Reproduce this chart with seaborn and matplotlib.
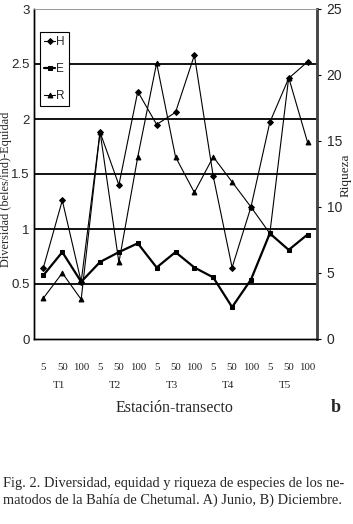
import matplotlib

matplotlib.use("Agg")
import matplotlib.pyplot as plt
import numpy as np
import pandas as pd
import seaborn as sns
from matplotlib.transforms import blended_transform_factory

sns.set_theme(style="white")
SERIF = ["Liberation Serif", "DejaVu Serif"]
NARROW = ["Liberation Sans Narrow", "Liberation Sans", "DejaVu Sans"]
plt.rcParams["font.family"] = SERIF

# --- data (b: Diciembre) ---
depths = ["5", "50", "100"] * 5
transects = ["T1", "T2", "T3", "T4", "T5"]
H = [0.65, 1.26, 0.52, 1.88, 1.40, 2.25, 1.95, 2.06, 2.58, 1.48, 0.65, 1.20, 1.97, 2.37, 2.52]
E = [0.58, 0.79, 0.52, 0.70, 0.79, 0.87, 0.65, 0.79, 0.65, 0.56, 0.29, 0.54, 0.96, 0.81, 0.95]
R = [3.1, 5.0, 3.0, 15.7, 5.8, 13.8, 20.9, 13.8, 11.1, 13.8, 11.9, 10.0, 8.0, 19.8, 14.9]
left_ticks = [0, 0.5, 1, 1.5, 2, 2.5, 3]
right_ticks = [0, 5, 10, 15, 20, 25]
caption = ("Fig. 2. Diversidad, equidad y riqueza de especies de los ne-\n"
           "matodos de la Bahía de Chetumal. A) Junio, B) Diciembre.")

df = pd.DataFrame({"pos": np.arange(len(depths)), "H": H, "E": E, "R": R})

W, Hpx = 353, 524
fig = plt.figure(figsize=(W / 100, Hpx / 100), dpi=100)
ax = fig.add_axes([34 / W, 1 - 339 / Hpx, (317 - 34) / W, (339 - 9) / Hpx])
ax2 = ax.twinx()

sns.lineplot(data=df, x="pos", y="H", ax=ax, color="black", lw=0.8,
             marker="D", markersize=3, markeredgecolor="black", legend=False)
sns.lineplot(data=df, x="pos", y="E", ax=ax, color="black", lw=1.6,
             marker="s", markersize=3.2, markeredgecolor="black", legend=False)
sns.lineplot(data=df, x="pos", y="R", ax=ax2, color="black", lw=0.8,
             marker="^", markersize=3.5, markeredgecolor="black", legend=False)

for v in [0.5, 1, 1.5, 2, 2.5]:
    ax.axhline(v, color="black", lw=1.3, zorder=0)

ax.set_xlim(-0.5, len(depths) - 0.5)
ax.set_ylim(0, 3)
ax2.set_ylim(0, 25)
ax.set_yticks(left_ticks)
ax.set_yticklabels([f"{t:g}" for t in left_ticks], family=NARROW, fontsize=9.5)
ax2.set_yticks(right_ticks)
ax2.set_yticklabels([str(t) for t in right_ticks], family=NARROW, fontsize=10)
ax.tick_params(axis="y", length=0, pad=3)
ax2.tick_params(axis="y", direction="out", length=3, width=0.8, color="black", pad=4)

ax.set_xticks(np.arange(len(depths)))
ax.set_xticklabels(depths, family=SERIF, fontsize=7.8)
ax.set_xticks(np.arange(-0.5, len(depths)), minor=True)
ax.tick_params(axis="x", which="major", length=0, pad=17)
ax.tick_params(axis="x", which="minor", direction="out", length=3, width=0.8, color="black")

trans = blended_transform_factory(ax.transData, ax.transAxes)
for i, t in enumerate(transects):
    ax.text(3 * i + 0.8, -0.14, t, transform=trans, ha="center", va="center",
            fontsize=8, family=SERIF)

for a in (ax, ax2):
    for s in ["left", "bottom"]:
        a.spines[s].set_color("black")
        a.spines[s].set_linewidth(1.0)
    a.spines["right"].set_color("#444444")
    a.spines["right"].set_linewidth(1.8)
    a.spines["top"].set_color("#999999")
    a.spines["top"].set_linewidth(0.6)
ax.set_xlabel("")
ax.set_ylabel("")
ax2.set_ylabel("")

handles = ax.get_lines()[:2] + ax2.get_lines()[:1]
leg = ax.legend(handles, ["H", "E", "R"], loc="upper left", bbox_to_anchor=(0.022, 0.93),
                borderaxespad=0, frameon=True, fancybox=False, edgecolor="black",
                framealpha=1, handlelength=0.9, handletextpad=0.1, labelspacing=1.25,
                borderpad=0.35, prop={"family": NARROW, "size": 8.5})
leg.get_frame().set_linewidth(0.8)

fig.text(6 / W, 1 - 189 / Hpx, "Diversidad (beles/ind)-Equidad", rotation=90,
         ha="center", va="center", fontsize=8.8)
fig.text(346 / W, 1 - 175 / Hpx, "Riqueza", rotation=90, ha="center", va="center",
         fontsize=9.5)
fig.text(175 / W, 1 - 408 / Hpx, "Estación-transecto", ha="center", va="center",
         fontsize=11.5)
fig.text(336 / W, 1 - 408 / Hpx, "b", ha="center", va="center", fontsize=13,
         fontweight="bold")
fig.text(3 / W, 1 - 492 / Hpx, caption, ha="left", va="center", fontsize=10.4,
         linespacing=1.3)

fig.savefig("out.png", dpi=100)
